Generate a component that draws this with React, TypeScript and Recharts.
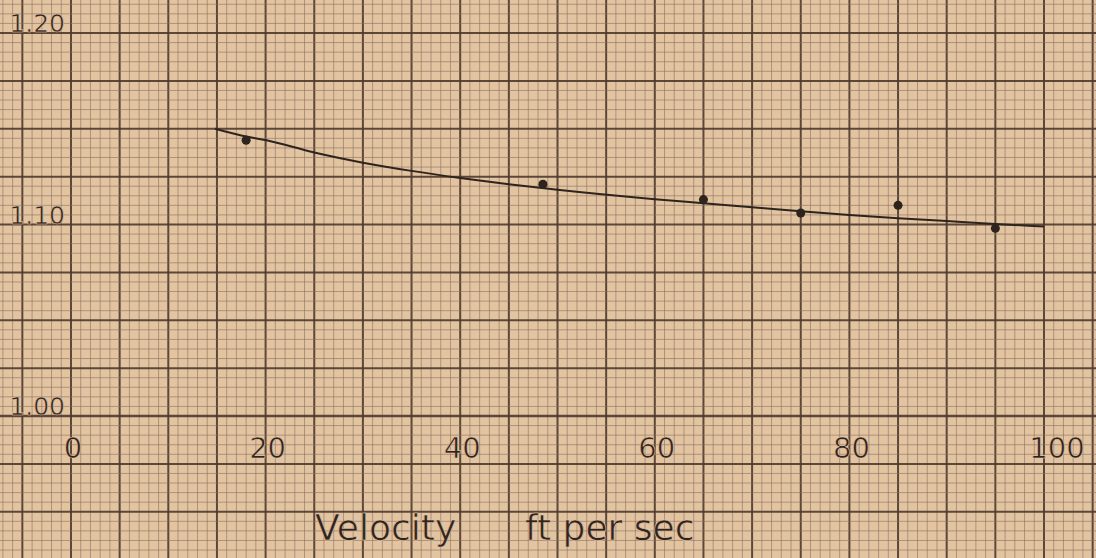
import {
  ComposedChart,
  Line,
  Scatter,
  XAxis,
  YAxis,
  ReferenceLine,
} from 'recharts';

// measured points (velocity ft/sec, ratio)
const VELOCITY = [18, 48.5, 65, 75, 85, 95];
const RATIO = [1.144, 1.121, 1.113, 1.106, 1.11, 1.098];

// hand-drawn fitted curve
const CURVE_V = [14.8, 17.5, 20, 25, 30, 35, 40, 45, 50, 60, 65, 70, 75, 80, 85, 90, 95, 100];
const CURVE_R = [
  1.15, 1.1465, 1.1441, 1.1376, 1.1323, 1.128, 1.1243, 1.121, 1.1181, 1.1132, 1.1111,
  1.109, 1.1069, 1.105, 1.1033, 1.1018, 1.1003, 1.0989,
];

const X_TICKS = [0, 20, 40, 60, 80, 100];
const Y_TICKS = [1.0, 1.1, 1.2];

const PAPER = '#e3c4a1';
const INK = '#2e241e';
const FINE = '#8a7060';
const HEAVY = '#4c3a2e';
const FONT = '"DejaVu Sans", sans-serif';

// graph paper rulings: 1 unit / 0.005, heavy every 5
const X_GRID: number[] = [];
for (let v = -7; v <= 105; v++) X_GRID.push(v);
const Y_GRID: number[] = [];
for (let k = 186; k <= 243; k++) Y_GRID.push(k);

const X_EDGE: [number, number] = [-7.4, 105.4];
const Y_EDGE: [number, number] = [0.925, 1.218];

const points = VELOCITY.map((v, i) => ({ v, r: RATIO[i] }));
const curve = CURVE_V.map((v, i) => ({ v, r: CURVE_R[i] }));

// lettering-guide ink is thin: a light paper-coloured stroke slims the glyphs
const inkText = {
  fill: '#2f2520',
  fontFamily: FONT,
  stroke: PAPER,
  strokeWidth: 0.6,
};

function XTick({ x, y, payload }: any) {
  const dx = payload.value === 100 ? 13 : 2;
  return (
    <text x={x + dx} y={y + 34} textAnchor="middle" fontSize={29} {...inkText}>
      {payload.value}
    </text>
  );
}

function YTick({ x, y, payload }: any) {
  return (
    <text x={x + 2} y={y - 1} textAnchor="end" fontSize={25} {...inkText}>
      {payload.value.toFixed(2)}
    </text>
  );
}

function VelocityLabel({ viewBox }: any) {
  const { x, y } = viewBox;
  return (
    <text y={y + 124} fontSize={36} {...inkText}>
      <tspan x={x + 244}>Velocity</tspan>
      <tspan x={x + 454}>ft per sec</tspan>
    </text>
  );
}

export default function App() {
  return (
    <div
      style={{
        position: 'fixed',
        left: 0,
        top: 0,
        width: 1096,
        height: 558,
        background: PAPER,
        overflow: 'hidden',
      }}
    >
      <ComposedChart
        width={1096}
        height={558}
        margin={{ top: 33, right: 52, left: 0, bottom: 0 }}
      >
        {X_GRID.map((v) => (
          <ReferenceLine
            key={`vx${v}`}
            segment={[
              { x: v, y: Y_EDGE[0] },
              { x: v, y: Y_EDGE[1] },
            ]}
            ifOverflow="visible"
            stroke={v % 5 === 0 ? HEAVY : FINE}
            strokeWidth={v % 5 === 0 ? 2 : 1}
            strokeOpacity={v % 5 === 0 ? 0.9 : 0.6}
          />
        ))}
        {Y_GRID.map((k) => (
          <ReferenceLine
            key={`hy${k}`}
            segment={[
              { x: X_EDGE[0], y: k * 0.005 },
              { x: X_EDGE[1], y: k * 0.005 },
            ]}
            ifOverflow="visible"
            stroke={k % 5 === 0 ? HEAVY : FINE}
            strokeWidth={k === 200 ? 2.5 : k % 5 === 0 ? 2 : 1}
            strokeOpacity={k % 5 === 0 ? 0.9 : 0.6}
          />
        ))}
        <XAxis
          type="number"
          dataKey="v"
          domain={[0, 100]}
          ticks={X_TICKS}
          allowDataOverflow
          axisLine={false}
          tickLine={false}
          height={142}
          tick={<XTick />}
          label={<VelocityLabel />}
        />
        <YAxis
          type="number"
          dataKey="r"
          domain={[1.0, 1.2]}
          ticks={Y_TICKS}
          allowDataOverflow
          axisLine={false}
          tickLine={false}
          width={71}
          tick={<YTick />}
        />
        <Line
          data={curve}
          dataKey="r"
          type="monotone"
          stroke={INK}
          strokeWidth={2}
          dot={false}
          isAnimationActive={false}
        />
        <Scatter data={points} dataKey="r" fill={INK} isAnimationActive={false} />
      </ComposedChart>
    </div>
  );
}
